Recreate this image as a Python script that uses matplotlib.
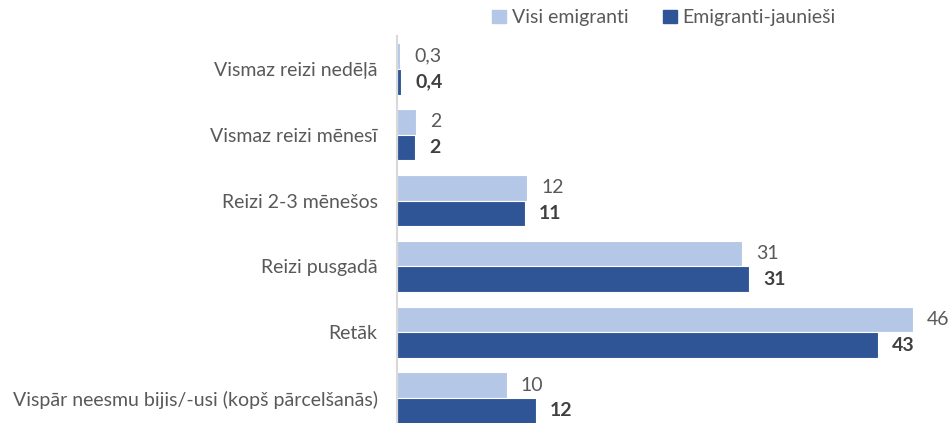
import numpy as np
import matplotlib.pyplot as plt
from matplotlib.patches import Patch

plt.rcParams['font.family'] = ['Lato', 'DejaVu Sans']

categories = ['Vismaz reizi nedēļā', 'Vismaz reizi mēnesī', 'Reizi 2-3 mēnešos',
              'Reizi pusgadā', 'Retāk', 'Vispār neesmu bijis/-usi (kopš pārcelšanās)']
visi = [0.3, 1.7, 11.6, 30.8, 46.0, 9.8]
jaunie = [0.4, 1.6, 11.4, 31.4, 42.9, 12.4]
series_names = ['Visi emigranti', 'Emigranti-jaunieši']

light = '#B4C7E7'
dark = '#2F5597'


# labels as in the source: one decimal below 1, whole numbers otherwise
def fmt(v):
    if v < 1:
        return ('%.1f' % v).replace('.', ',')
    return '%d' % round(v)


fig = plt.figure(figsize=(9.52, 4.23), dpi=100)
ax = fig.add_axes([397 / 952, -8 / 423, 538 / 952, 395 / 423])

y = np.arange(len(categories))
h = 0.39
b1 = ax.barh(y - h / 2, visi, height=h, color=light, edgecolor='white', linewidth=0.8)
b2 = ax.barh(y + h / 2, jaunie, height=h, color=dark, edgecolor='white', linewidth=0.8)

for bar, v in zip(b1, visi):
    ax.text(bar.get_width() + 1.25, bar.get_y() + bar.get_height() / 2, fmt(v),
            va='center', ha='left', fontsize=14, color='#595959')
for bar, v in zip(b2, jaunie):
    ax.text(bar.get_width() + 1.25, bar.get_y() + bar.get_height() / 2, fmt(v),
            va='center', ha='left', fontsize=14, color='#404040', fontweight='bold')

ax.set_xlim(0, 48)
ax.set_ylim(len(categories) - 0.5, -0.5)
ax.set_yticks(y)
ax.set_yticklabels(categories, fontsize=14, color='#595959')
ax.tick_params(axis='y', length=0, pad=14)
ax.set_xticks([])
for s in ['top', 'right', 'bottom']:
    ax.spines[s].set_visible(False)
ax.spines['left'].set_color('#D9D9D9')
ax.spines['left'].set_linewidth(1.5)

handles = [Patch(color=light), Patch(color=dark)]
fig.legend(handles, series_names, loc='center', bbox_to_anchor=(664 / 952, 1 - 18 / 423),
           ncol=2, frameon=False, fontsize=14, labelcolor='#595959',
           handlelength=0.7, handleheight=0.7, handletextpad=0.3, columnspacing=1.8)

fig.savefig('out.png', dpi=100)
